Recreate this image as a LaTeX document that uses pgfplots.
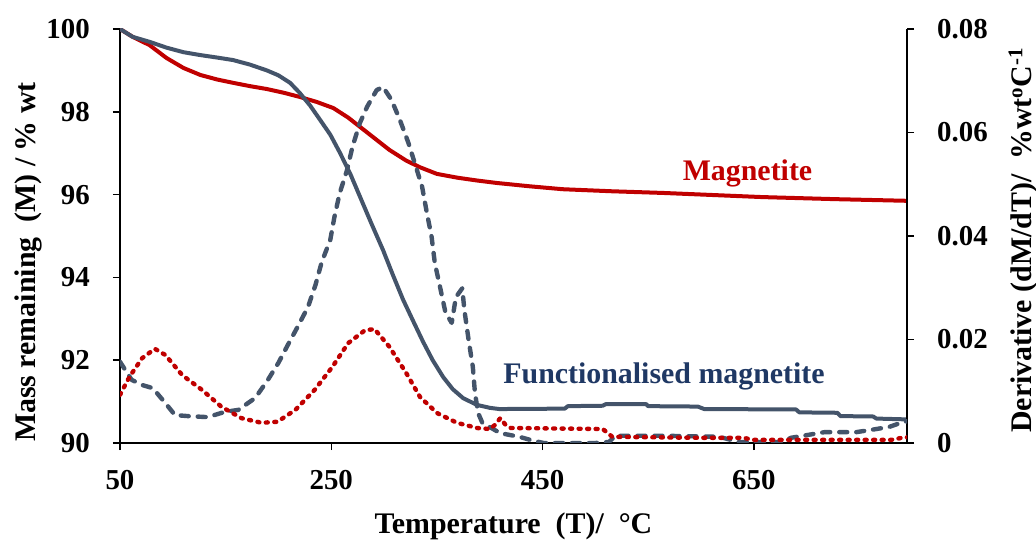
\documentclass[border=0pt]{standalone}
\usepackage{fontspec}
\setmainfont{Liberation Serif}
\usepackage{pgfplots}
\pgfplotsset{compat=1.18}
\definecolor{magred}{HTML}{C00000}
\definecolor{funcblue}{HTML}{44546A}
\definecolor{labblue}{HTML}{1F3864}

\begin{document}
\begin{tikzpicture}
\path[use as bounding box] (0,0) rectangle (1036bp,542bp);
\pgfplotsset{
  tga/.style={
    scale only axis, width=787bp, height=414bp,
    at={(120bp,99bp)}, anchor=south west,
    xmin=50, xmax=795,
    axis line style={line width=1.5bp, black},
    tick style={line width=1.5bp, black},
    major tick length=7bp,
    tick align=outside,
    ticklabel style={font=\fontsize{29}{29}\selectfont\bfseries},
    /pgf/number format/assume math mode=true,
    label style={font=\fontsize{30}{30}\selectfont\bfseries},
  },
  mass/.style={line width=4bp, line join=round},
  deriv/.style={line width=4.4bp, line cap=round, line join=round},
}

% mass remaining, left axis
\begin{axis}[tga,
    ymin=90, ymax=100,
    axis x line*=bottom, axis y line*=left,
    xtick={50,250,450,650},
    ytick={90,92,94,96,98,100},
    yticklabel style={inner sep=0pt, xshift=-23bp},
    xticklabel style={inner sep=0pt, yshift=-20bp},
    xlabel={Temperature\ \ (T)/\ \ °C},
    xlabel style={at={(axis description cs:0.5,0)}, anchor=base, yshift=-90bp},
    ylabel={Mass remaining\ \ (M) / \% wt},
    ylabel style={at={(axis description cs:-0.108,0.437)}, anchor=base, rotate=0},
]
\addplot[mass, magred] coordinates {
 (50,100) (62,99.81) (78,99.61) (94,99.30) (110,99.06) (126,98.89)
 (142,98.78) (157,98.70) (173,98.62) (189,98.55) (205,98.46) (220,98.36)
 (236,98.24) (252,98.09) (266,97.86) (282,97.54) (291,97.36) (305,97.08)
 (321,96.82) (334,96.66) (350,96.50) (369,96.41) (388,96.34) (407,96.28)
 (438,96.20) (469,96.13) (516,96.08) (564,96.04) (611,95.99) (658,95.94)
 (727,95.89) (795,95.85)
};
\addplot[mass, funcblue] coordinates {
 (50,100) (62,99.81) (78,99.69) (94,99.55) (110,99.44) (126,99.37)
 (142,99.31) (157,99.25) (173,99.14) (189,99.00) (200,98.88) (211,98.70)
 (220,98.46) (230,98.15) (239,97.82) (249,97.45) (258,97.02) (268,96.50)
 (277,95.96) (288,95.30) (299,94.66) (308,94.08) (318,93.46) (328,92.92)
 (337,92.44) (346,92.00) (356,91.59) (365,91.30) (375,91.08) (388,90.92)
 (400,90.85) (409,90.82) (471,90.83) (474,90.89) (507,90.90) (510,90.94)
 (548,90.94) (550,90.89) (597,90.88) (603,90.82) (690,90.81) (693,90.74)
 (729,90.73) (732,90.65) (763,90.64) (766,90.59) (795,90.57)
};
\node[anchor=base, text=magred, font=\fontsize{30}{30}\selectfont\bfseries]
  at (axis cs:644,96.33) {Magnetite};
\node[anchor=base, text=labblue, font=\fontsize{30}{30}\selectfont\bfseries]
  at (axis cs:565,91.43) {Functionalised magnetite};
\end{axis}

% derivative, right axis
\begin{axis}[tga,
    ymin=0, ymax=0.08,
    axis y line*=right, axis x line=none,
    ytick={0,0.02,0.04,0.06,0.08},
    yticklabels={0,0.02,0.04,0.06,0.08},
    scaled y ticks=false,
    yticklabel style={inner sep=0pt, xshift=23bp},
    ylabel={Derivative (dM/dT)/\ \ \%wt\textsuperscript{o}C\textsuperscript{-1}},
    ylabel style={at={(axis description cs:1.158,0.49)}, anchor=base, rotate=0},
]
\addplot[deriv, funcblue, dash pattern=on 8bp off 9bp] coordinates {
 (50,0.0157) (55,0.0141) (61,0.0122) (71,0.0112) (81,0.0106) (93,0.0077)
 (102,0.0054) (114,0.0052) (133,0.0050) (149,0.0060) (162,0.0064) (178,0.0087)
 (190,0.0122) (200,0.0155) (209,0.0190) (218,0.0224) (228,0.0263) (235,0.0305)
 (241,0.0350) (249,0.0392) (253,0.0437) (258,0.0483) (265,0.0528) (270,0.0572)
 (277,0.0618) (284,0.0650) (293,0.0682) (299,0.0688) (307,0.0663) (315,0.0624)
 (323,0.0580) (329,0.0541) (336,0.0495) (340,0.0450) (345,0.0398) (348,0.0348)
 (353,0.0301) (358,0.0253) (364,0.0232) (368,0.0282) (374,0.0299) (376,0.0257)
 (380,0.0199) (384,0.0147) (386,0.0097) (389,0.0058) (393,0.0039) (410,0.0019)
 (428,0.0012) (440,0.0005) (451,0.0000) (500,0.0000) (513,0.0002) (519,0.0014)
 (565,0.0014) (617,0.0012) (636,0.0002) (678,0.0002) (685,0.0010) (717,0.0021)
 (747,0.0021) (760,0.0025) (778,0.0031) (792,0.0041) (795,0.0042)
};
\addplot[deriv, magred, dash pattern=on 2bp off 6.5bp] coordinates {
 (50,0.0093) (59,0.0128) (71,0.0164) (83,0.0182) (93,0.0170) (109,0.0131)
 (128,0.0102) (146,0.0070) (165,0.0048) (184,0.0039) (199,0.0041) (216,0.0064)
 (234,0.0102) (251,0.0147) (266,0.0193) (282,0.0218) (291,0.0220) (305,0.0186)
 (321,0.0135) (334,0.0089) (350,0.0058) (369,0.0039) (388,0.0029) (400,0.0027)
 (405,0.0035) (410,0.0048) (415,0.0035) (420,0.0029) (507,0.0027) (516,0.0012)
 (600,0.0010) (640,0.0010) (650,0.0006) (780,0.0006) (790,0.0010) (795,0.0011)
};
\end{axis}
\end{tikzpicture}
\end{document}
